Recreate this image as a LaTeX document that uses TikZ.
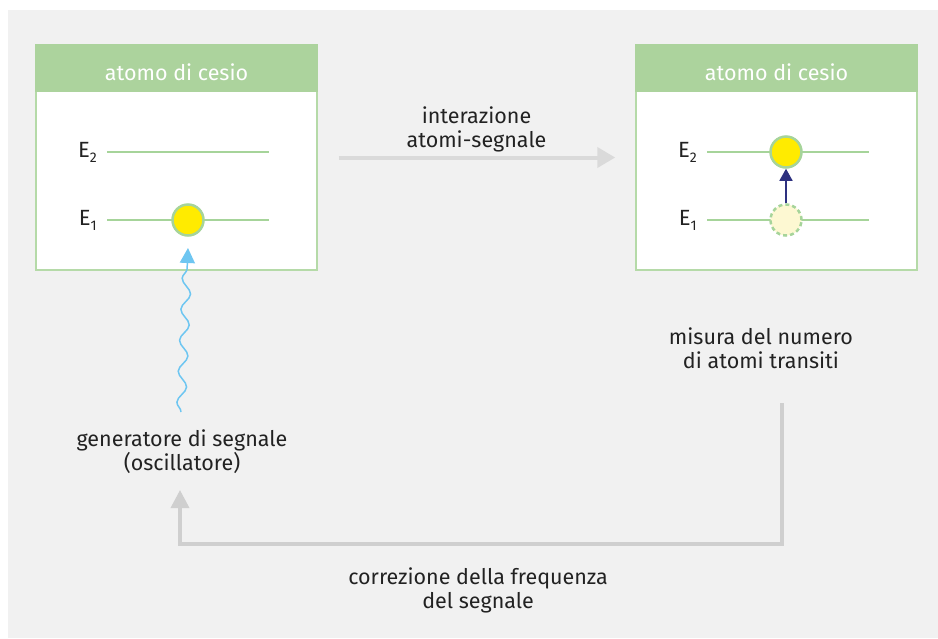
\documentclass[tikz,border=0pt]{standalone}
\usepackage{fontspec}
\setmainfont{Fira Sans}
\usetikzlibrary{positioning,calc,arrows.meta,decorations.pathmorphing}

\definecolor{bggray}{HTML}{F1F1F1}
\definecolor{headgreen}{HTML}{ACD39D}
\definecolor{boxgreen}{HTML}{B5DAA8}
\definecolor{linegreen}{HTML}{A6D49A}
\definecolor{atomyellow}{HTML}{FFEB00}
\definecolor{paleyellow}{HTML}{FDF8D2}
\definecolor{navyarrow}{HTML}{2E3180}
\definecolor{arrowgray}{HTML}{DADADA}
\definecolor{wavecyan}{HTML}{6EC6F1}
\definecolor{textblack}{HTML}{222222}

\begin{document}
\begin{tikzpicture}[x=1pt,y=-1pt,
atombox/.style={rectangle, draw=boxgreen, line width=1.5pt, fill=white, minimum width=281pt, minimum height=225pt, inner sep=0pt},
headnode/.style={rectangle, fill=headgreen, text=white, minimum width=282.5pt, minimum height=48pt, inner sep=0pt, text height=24pt, text depth=0pt, font=\fontsize{21.5}{25}\selectfont},
txtnode/.style={align=center, text=textblack, font=\fontsize{21.5}{24}\selectfont},
elabel/.style={anchor=base east, text=textblack, inner sep=0pt, font=\fontsize{22}{26}\selectfont},
level/.style={draw=linegreen, line width=1.2pt},
atomfull/.style={circle, draw=linegreen, line width=2.5pt, fill=atomyellow, minimum size=31pt, inner sep=0pt},
atomghost/.style={circle, draw=linegreen, dashed, dash pattern=on 4pt off 3pt, line width=2.5pt, fill=paleyellow, minimum size=31pt, inner sep=0pt},
excite/.style={draw=navyarrow, line width=1.5pt, -{Triangle[length=12pt,width=13pt]}},
interact/.style={draw=arrowgray, line width=4pt, -{Triangle[length=18pt,width=20pt]}},
feedback/.style={draw=arrowgray!95!black, line width=3.5pt, -{Triangle[length=18pt,width=18pt]}},
wave/.style={draw=wavecyan, line width=1.5pt, -{Triangle[length=15pt,width=15pt]}, decoration={snake, amplitude=4.5pt, segment length=31pt, post length=14pt}},
]
\useasboundingbox (0,0) rectangle (938,638);
\fill[bggray] (8,10) rectangle (938,638);

%Nodes
\node[atombox]  (boxL) at (176.5,157.5) {};
\node[atombox]  (boxR) at (776.5,157.5) {};
\node[headnode, anchor=north] (headL) at (boxL.north) {atomo di cesio};
\node[headnode, anchor=north] (headR) at (boxR.north) {atomo di cesio};

\node[elabel] (e2L) at (97,157) {E\raisebox{-5pt}{\fontsize{14}{16}\selectfont 2}};
\node[elabel] (e1L) at (97,225) {E\raisebox{-5pt}{\fontsize{14}{16}\selectfont 1}};
\node[elabel] (e2R) at (697,157) {E\raisebox{-5pt}{\fontsize{14}{16}\selectfont 2}};
\node[elabel] (e1R) at (697,225) {E\raisebox{-5pt}{\fontsize{14}{16}\selectfont 1}};

%Levels
\draw[level] (107,152) -- (269,152);
\draw[level] (107,220) -- (269,220);
\draw[level] (707,152) -- (869,152);
\draw[level] (707,220) -- (869,220);

\node[atomfull]  (c1) at (188,220) {};
\node[atomfull]  (c2) at (786,152) {};
\node[atomghost] (c0) at (786,220) {};

\node[txtnode] (gen)  at (182,452) {generatore di segnale\\(oscillatore)};
\node[txtnode] (meas) at (761,348) {misura del numero\\di atomi transiti};
\node[txtnode] (corr) at (478,590) {correzione della frequenza\\del segnale};

\coordinate (wavestart) at (181,412);
\coordinate (wavetip) at (188,248);
\coordinate (fbtop) at (782,403);
\coordinate (fbend) at (180,490);

%Lines
\draw[excite] (c0.north) -- (c2.south);
\draw[interact, shorten <=21pt, shorten >=20pt] (boxL.east) -- node[txtnode, above=0pt] (inter) {interazione\\atomi-segnale} (boxL.east -| boxR.west);
\draw[wave, decorate] (wavestart) -- (wavetip);
\draw[feedback] (fbtop) -- ++(0,141) -| (fbend);
\end{tikzpicture}
\end{document}
